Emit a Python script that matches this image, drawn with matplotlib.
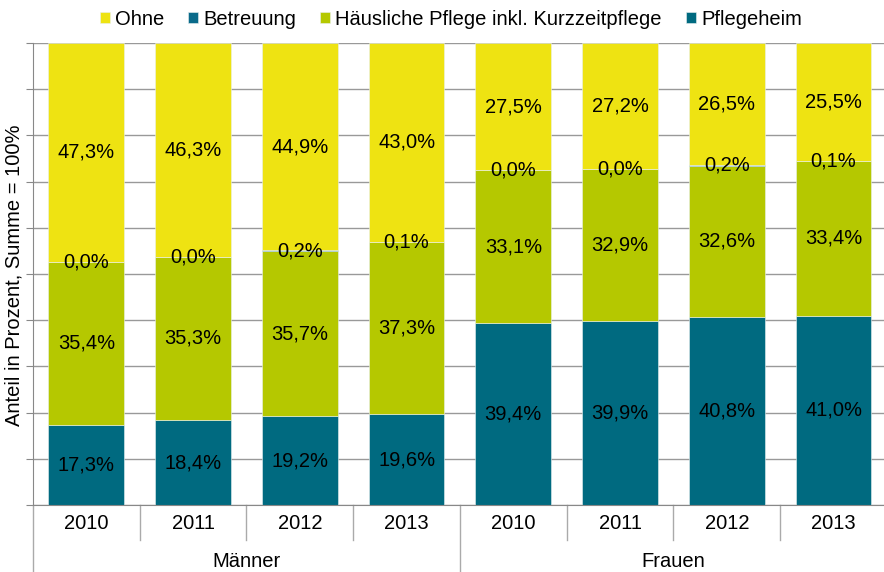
import matplotlib
matplotlib.use('Agg')
import matplotlib.pyplot as plt
import numpy as np

plt.rcParams['font.family'] = ['Liberation Sans', 'DejaVu Sans']

# Daten
jahre = ['2010', '2011', '2012', '2013', '2010', '2011', '2012', '2013']
gruppen = ['Männer', 'Frauen']
pflegeheim = [17.3, 18.4, 19.2, 19.6, 39.4, 39.9, 40.8, 41.0]
haeusliche = [35.4, 35.3, 35.7, 37.3, 33.1, 32.9, 32.6, 33.4]
betreuung = [0.0, 0.0, 0.2, 0.1, 0.0, 0.0, 0.2, 0.1]
ohne = [47.3, 46.3, 44.9, 43.0, 27.5, 27.2, 26.5, 25.5]

serien = [
    ('Pflegeheim', pflegeheim, '#006A80'),
    ('Häusliche Pflege inkl. Kurzzeitpflege', haeusliche, '#B5C800'),
    ('Betreuung', betreuung, '#0A6A8A'),
    ('Ohne', ohne, '#EEE312'),
]

fs = 14.5

fig = plt.figure(figsize=(8.84, 5.72), dpi=100)
ax = fig.add_axes([0.0373, 0.1171, 0.966, 0.8077])

x = np.arange(len(jahre))
unten = np.zeros(len(jahre))
handles = {}
for name, werte, farbe in serien:
    werte = np.array(werte)
    b = ax.bar(x, werte, 0.71, bottom=unten, color=farbe, edgecolor='#E8F0F0',
               linewidth=0.4, zorder=2, label=name)
    handles[name] = b
    for xi, u, w in zip(x, unten, werte):
        ax.text(xi, u + w / 2, f'{w:.1f}%'.replace('.', ','), ha='center', va='center',
                fontsize=fs, color='black', zorder=3)
    unten += werte

ax.set_xlim(-0.5, 7.5)
ax.set_ylim(0, 100)
ax.set_yticks(np.arange(0, 101, 10))
ax.set_yticklabels([])
ax.tick_params(axis='y', direction='out', length=5, color='#888888')
ax.grid(axis='y', color='#999999', linewidth=1, zorder=0)
ax.set_axisbelow(True)
ax.set_xticks([])
for s in ['top', 'right']:
    ax.spines[s].set_visible(False)
ax.spines['left'].set_color('#888888')
ax.spines['bottom'].set_color('#888888')

# Achsentitel
fig.text(14 / 884, 1 - 275 / 572, 'Anteil in Prozent, Summe = 100%', rotation=90,
         ha='center', va='center', fontsize=fs)

# Kategorienachse mit Gruppen
tr = ax.get_xaxis_transform()
for xi, j in zip(x, jahre):
    ax.text(xi, -0.041, j, transform=tr, ha='center', va='center', fontsize=fs)
for xs in [0.5, 1.5, 2.5, 4.5, 5.5, 6.5]:
    ax.plot([xs, xs], [0, -0.076], transform=tr, color='#AAAAAA', lw=1, clip_on=False)
for xs in [-0.5, 3.5]:
    ax.plot([xs, xs], [0, -0.16], transform=tr, color='#AAAAAA', lw=1, clip_on=False)
ax.text(1.5, -0.123, gruppen[0], transform=tr, ha='center', va='center', fontsize=fs)
ax.text(5.5, -0.123, gruppen[1], transform=tr, ha='center', va='center', fontsize=fs)

reihenfolge = ['Ohne', 'Betreuung', 'Häusliche Pflege inkl. Kurzzeitpflege', 'Pflegeheim']
fig.legend([handles[n] for n in reihenfolge], reihenfolge, loc='upper center',
           bbox_to_anchor=(0.51, 1.015), ncol=4, frameon=False, fontsize=fs,
           handlelength=0.5, handleheight=0.5, handletextpad=0.25, columnspacing=1.2)

fig.savefig('out.png', dpi=100)
